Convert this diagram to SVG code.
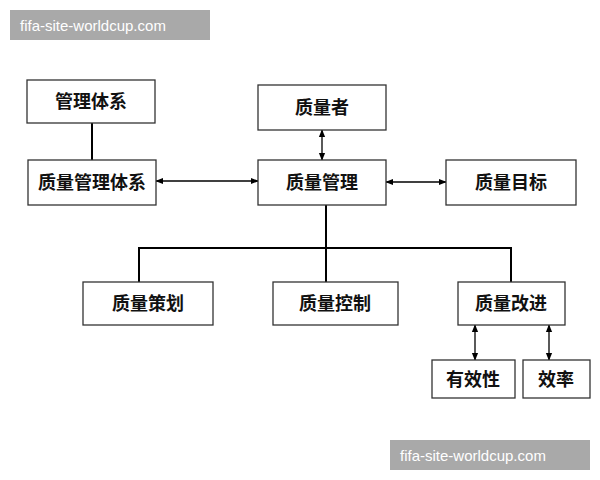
<svg xmlns="http://www.w3.org/2000/svg" width="600" height="480" viewBox="0 0 600 480">
<defs>
<marker id="a" viewBox="0 0 10 10" refX="9" refY="5" markerWidth="6" markerHeight="6" orient="auto-start-reverse"><path d="M0,1 L10,5 L0,9 z" fill="#000"/></marker>
<style>
.b{fill:#fff;stroke:#333;stroke-width:1.3}
.t{font-family:"Liberation Sans","Noto Sans CJK SC",sans-serif;font-weight:bold;font-size:18px;text-anchor:middle;dominant-baseline:central;fill:#111}
.c{stroke:#000;stroke-width:2;fill:none}
.d{stroke:#000;stroke-width:1.3;fill:none;marker-start:url(#a);marker-end:url(#a)}
.w{font-family:"Liberation Sans",sans-serif;font-size:15px;fill:#fff;dominant-baseline:central}
</style>
</defs>
<rect width="600" height="480" fill="#fff"/>
<g id="connectors">
<line class="c" x1="92" y1="123" x2="92" y2="160"/>
<line class="d" x1="156" y1="181" x2="258" y2="181"/>
<line class="d" x1="322" y1="130" x2="322" y2="160"/>
<line class="d" x1="386" y1="182" x2="446" y2="182"/>
<path class="c" d="M326,205 V248 M139,282 V248 H511 V282 M326,248 V282"/>
<line class="d" x1="475" y1="325" x2="475" y2="360"/>
<line class="d" x1="549" y1="325" x2="549" y2="360"/>
</g>
<g id="n1"><rect class="b" x="27" y="80" width="128" height="43"/><text class="t" x="91" y="102">管理体系</text></g>
<g id="n2"><rect class="b" x="28" y="160" width="128" height="45"/><text class="t" x="92" y="183">质量管理体系</text></g>
<g id="n3"><rect class="b" x="258" y="85" width="128" height="45"/><text class="t" x="322" y="108">质量者</text></g>
<g id="n4"><rect class="b" x="258" y="160" width="128" height="45"/><text class="t" x="322" y="183">质量管理</text></g>
<g id="n5"><rect class="b" x="446" y="160" width="130" height="45"/><text class="t" x="511" y="183">质量目标</text></g>
<g id="n6"><rect class="b" x="83" y="282" width="130" height="43"/><text class="t" x="148" y="304">质量策划</text></g>
<g id="n7"><rect class="b" x="273" y="282" width="125" height="43"/><text class="t" x="335" y="304">质量控制</text></g>
<g id="n8"><rect class="b" x="458" y="282" width="107" height="43"/><text class="t" x="511" y="304">质量改进</text></g>
<g id="n9"><rect class="b" x="432" y="360" width="83" height="38"/><text class="t" x="473" y="380">有效性</text></g>
<g id="n10"><rect class="b" x="523" y="360" width="67" height="38"/><text class="t" x="556" y="380">效率</text></g>
<g id="wm1"><rect x="10" y="10" width="200" height="30" fill="#9a9a9a" opacity="0.85"/><text class="w" x="20" y="25">fifa-site-worldcup.com</text></g>
<g id="wm2"><rect x="390" y="440" width="200" height="30" fill="#9a9a9a" opacity="0.85"/><text class="w" x="400" y="455">fifa-site-worldcup.com</text></g>
</svg>
